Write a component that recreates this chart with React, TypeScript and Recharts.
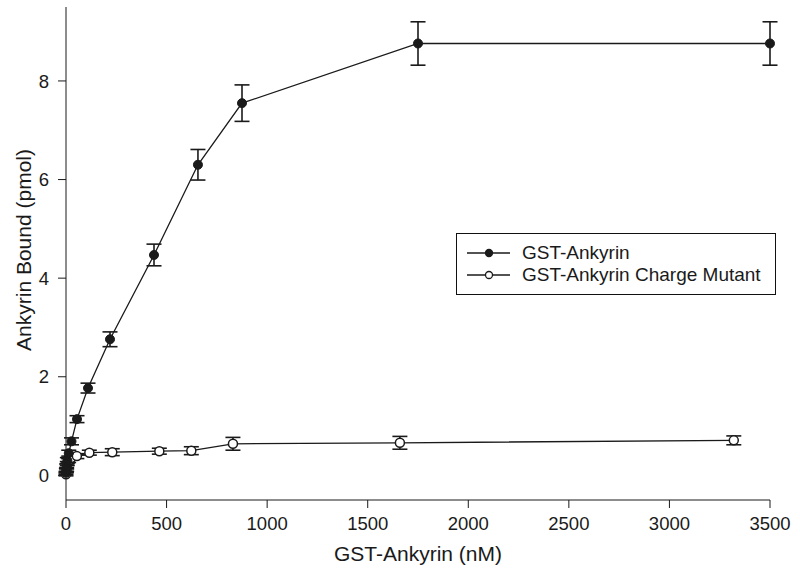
import React from 'react';
import {
  ComposedChart, Line, XAxis, YAxis, ErrorBar, Label
} from 'recharts';

// GST-Ankyrin (filled circles)
const ankX = [0, 1.7, 3.4, 6.8, 13.7, 27.3, 54.7, 109.4, 218.75, 437.5, 656, 875, 1750, 3500];
const ankY = [0.05, 0.1, 0.18, 0.3, 0.45, 0.69, 1.14, 1.77, 2.76, 4.47, 6.3, 7.55, 8.76, 8.76];
const ankErr = [0.03, 0.04, 0.05, 0.06, 0.06, 0.07, 0.07, 0.1, 0.15, 0.22, 0.31, 0.37, 0.44, 0.44];

// GST-Ankyrin Charge Mutant (open circles)
const mutX = [0, 3.2, 6.5, 13, 26, 54, 116, 230, 464, 623, 830, 1660, 3320];
const mutY = [0.02, 0.12, 0.24, 0.3, 0.35, 0.39, 0.46, 0.47, 0.49, 0.5, 0.64, 0.66, 0.71];
const mutErr = [0.03, 0.04, 0.04, 0.04, 0.04, 0.05, 0.05, 0.07, 0.06, 0.08, 0.13, 0.13, 0.09];

const xTicks = [0, 500, 1000, 1500, 2000, 2500, 3000, 3500];
const yTicks = [0, 2, 4, 6, 8];

const seriesNames = ['GST-Ankyrin', 'GST-Ankyrin Charge Mutant'];

const ankData = ankX.map((x, i) => ({ x, y: ankY[i], err: ankErr[i] }));
const mutData = mutX.map((x, i) => ({ x, y: mutY[i], err: mutErr[i] }));

const FONT = '"Liberation Sans", Arial, sans-serif';
const INK = '#1a1a1a';

// legend drawn as an overlay so it doesn't eat into the plot area
const LegendBox = () => (
  <div style={{
    position: 'absolute', left: 456, top: 233,
    border: '1px solid #111', background: '#fff', width: 320, height: 62,
    boxSizing: 'border-box', padding: '8px 0 0 10px', fontFamily: FONT, fontSize: 19, color: INK
  }}>
    {seriesNames.map((name, i) => (
      <div key={name} style={{ display: 'flex', alignItems: 'center', height: 22 }}>
        <svg width={43} height={12} style={{ marginRight: 12 }}>
          <line x1={0} y1={6} x2={43} y2={6} stroke={INK} strokeWidth={1.3} />
          <circle cx={22} cy={6} r={3.5} fill={i === 0 ? INK : '#fff'} stroke={INK} strokeWidth={1.3} />
        </svg>
        <span>{name}</span>
      </div>
    ))}
  </div>
);

export default function App() {
  const tickStyle = { fontSize: 18.5, fill: INK, fontFamily: FONT };
  return (
    <div style={{ position: 'absolute', left: 0, top: 0, width: 800, height: 581, background: '#fff' }}>
      <ComposedChart width={800} height={581} margin={{ top: 7, right: 30, bottom: 0, left: 0 }}>
        <XAxis
          type="number" dataKey="x" domain={[0, 3500]} ticks={xTicks} height={81}
          allowDuplicatedCategory={false}
          stroke={INK} tickSize={8} tick={tickStyle} tickMargin={9}
        >
          <Label value="GST-Ankyrin (nM)" position="insideBottom" offset={20}
            style={{ fontSize: 21, fill: INK, fontFamily: FONT }} />
        </XAxis>
        <YAxis
          type="number" dataKey="y" domain={[-0.5, 9.5]} ticks={yTicks} width={66}
          stroke={INK} tickSize={8} tick={tickStyle} tickMargin={9}
        >
          <Label content={() => (
            <text x={23} y={250} transform="rotate(-90 23 250)" textAnchor="middle"
              dominantBaseline="central" style={{ fontSize: 21, fill: INK, fontFamily: FONT }}>
              Ankyrin Bound (pmol)
            </text>
          )} />
        </YAxis>
        <Line
          data={mutData} dataKey="y" name={seriesNames[1]} type="linear"
          stroke={INK} strokeWidth={1.3} isAnimationActive={false}
          dot={{ r: 4.5, fill: '#fff', stroke: INK, strokeWidth: 1.5 }}
        >
          <ErrorBar dataKey="err" direction="y" width={7.5} stroke={INK} strokeWidth={1.6} />
        </Line>
        <Line
          data={ankData} dataKey="y" name={seriesNames[0]} type="linear"
          stroke={INK} strokeWidth={1.3} isAnimationActive={false}
          dot={{ r: 4.5, fill: INK, stroke: INK, strokeWidth: 1 }}
        >
          <ErrorBar dataKey="err" direction="y" width={7.5} stroke={INK} strokeWidth={1.6} />
        </Line>
      </ComposedChart>
      <LegendBox />
    </div>
  );
}
